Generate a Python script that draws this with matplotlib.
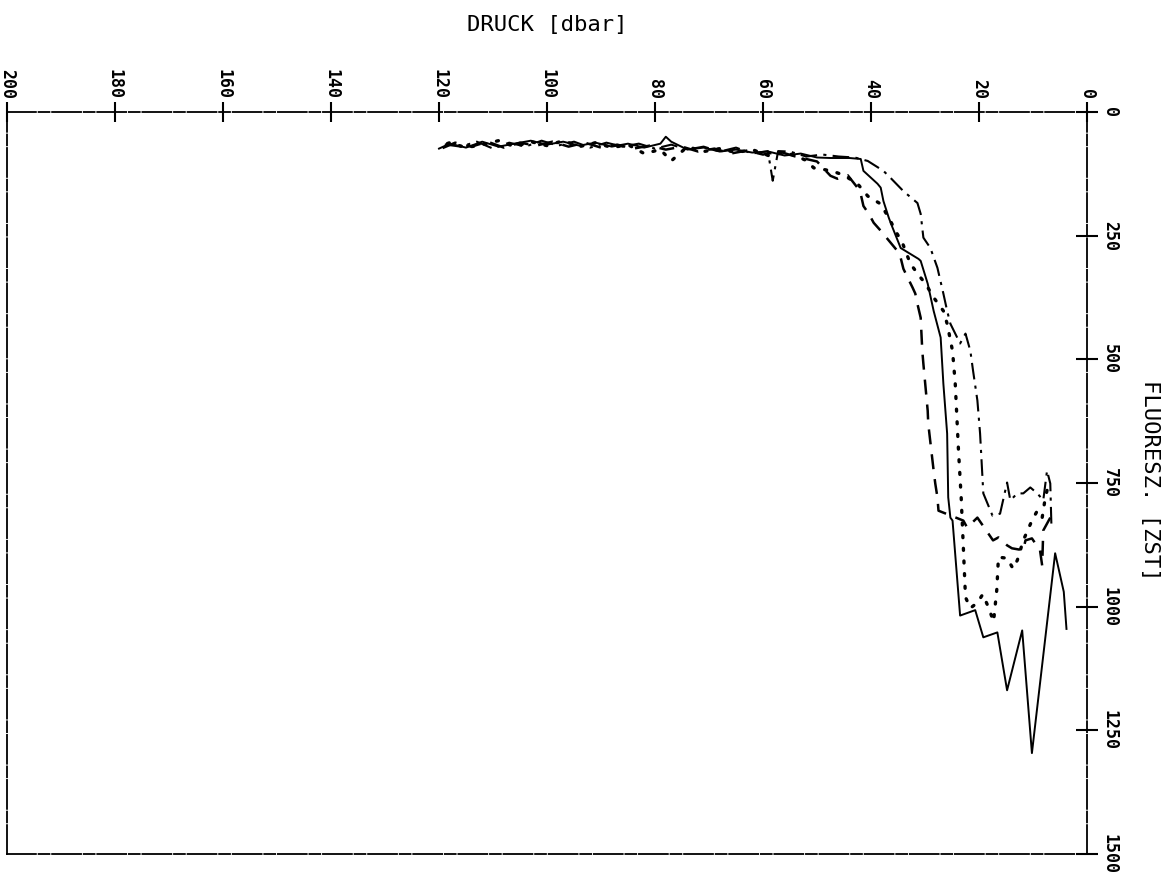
import matplotlib.pyplot as plt

# Profiles: pressure [dbar] vs. fluorescence [ZST], four casts
p_solid = [3.8, 4.3, 5.9, 10.2, 12.0, 14.8, 16.6, 19.2, 20.7, 23.5, 24.9, 25.3, 25.7,
           25.9, 26.6, 27.1, 28.4, 29.5, 30.8, 31.2, 34.5, 36.0, 36.7, 37.7, 38.2, 38.8,
           41.4, 41.9, 44.0, 47.5, 50, 53, 56, 59, 62, 65, 68, 71, 74, 77, 78, 79, 82,
           85, 88, 91, 94, 97, 100, 103, 106, 109, 112, 115, 118, 120]
f_solid = [1045, 970, 892, 1296, 1048, 1169, 1052, 1062, 1007, 1018, 826, 820, 779,
           650, 549, 456, 402, 347, 301, 297, 275, 234, 214, 180, 153, 145,
           119, 95, 93, 93, 92, 84, 88, 80, 82, 76, 80, 72, 76, 60, 50, 64, 72,
           64, 70, 62, 68, 60, 66, 58, 64, 70, 60, 72, 64, 74]

p_dash = [6.8, 8.1, 8.3, 8.7, 10.2, 11.4, 11.8, 13.9, 14.8, 16.4, 17.4, 20.3, 22.2,
          22.9, 27.5, 27.7, 28.1, 28.4, 29.4, 29.5, 30.3, 30.5, 30.8, 31.4, 31.8, 32.3,
          33.2, 34.0, 34.5, 35.1, 38.2, 39.5, 40.4, 41.4, 41.9, 42.5, 44.3, 46.2, 47.5,
          50, 54, 57, 60, 63, 66, 69, 72, 75, 78, 81, 84, 87, 90, 93, 96, 99, 102,
          105, 108, 111, 114, 117, 120]
f_dash = [820, 846, 917, 886, 862, 866, 886, 882, 876, 860, 866, 820, 840,
          826, 806, 779, 751, 725, 630, 604, 509, 483, 416, 388, 367, 355,
          335, 317, 295, 281, 240, 224, 206, 190, 166, 153, 128, 135, 129,
          100, 90, 80, 86, 78, 84, 74, 80, 70, 76, 68, 74, 66, 72, 62, 70, 60, 68,
          62, 72, 60, 70, 62, 76]

p_dot = [7.4, 7.8, 8.3, 9.2, 10.2, 11.8, 12.9, 13.7, 14.8, 16.4, 16.7, 17.3, 18.3,
         19.3, 20.3, 21.6, 22.5, 23.3, 23.8, 24.4, 24.9, 25.9, 26.6, 28.4, 29.9, 30.8,
         32.7, 34.2, 35.5, 36.4, 38.2, 40.6, 42.5, 45.0, 47.0, 49.3, 50.6, 52, 54,
         56, 59, 62, 65, 68, 71, 74, 77, 79, 82, 85, 88, 91, 94, 97, 100, 103, 106,
         109, 112, 115, 118, 120]
f_dot = [765, 785, 820, 806, 826, 866, 906, 923, 902, 900, 965, 1030, 1000,
         975, 992, 1003, 981, 779, 684, 549, 483, 428, 402, 375, 347, 335,
         307, 264, 240, 220, 186, 170, 145, 128, 120, 115, 113, 98, 88,
         82, 88, 76, 82, 74, 80, 70, 99, 76, 84, 66, 72, 62, 70, 58, 68, 60, 70,
         58, 66, 72, 62, 70]

p_dashdot = [6.6, 6.8, 7.4, 8.1, 9.2, 10.5, 11.8, 12.9, 14.2, 14.8, 16.1, 17.5, 19.2,
             19.8, 20.3, 21.1, 21.6, 22.5, 23.5, 25.3, 25.9, 26.6, 27.7, 29.0, 30.3,
             30.8, 31.4, 34.0, 36.4, 37.7, 40.6, 43, 46, 49, 52, 55, 57.2, 58.2, 59.1,
             62, 65, 68, 71, 74, 77, 80, 83, 86, 89, 92, 95, 98, 101, 104, 107, 110,
             113, 116, 120]
f_dashdot = [832, 751, 725, 785, 771, 759, 771, 771, 785, 749, 812, 816, 771,
             650, 583, 523, 483, 448, 468, 428, 402, 367, 315, 275, 254,
             206, 184, 160, 133, 119, 99, 92, 90, 86, 90, 80, 79, 139, 79,
             84, 72, 80, 70, 76, 66, 74, 64, 70, 62, 72, 60, 68, 58, 70, 62, 74,
             60, 70, 64]

x_ticks = list(range(0, 201, 20))
y_ticks = list(range(0, 1501, 250))

mono = 'DejaVu Sans Mono'

fig = plt.figure(figsize=(11.76, 8.75), dpi=100)
ax = fig.add_axes([7 / 1176, 21 / 875, 1080 / 1176, 742 / 875])

ax.plot(p_solid, f_solid, color='black', lw=1.4, ls='-')
ax.plot(p_dash, f_dash, color='black', lw=1.8, ls=(0, (6, 4)))
ax.plot(p_dot, f_dot, color='black', lw=2.4, ls=(0, (0.6, 3.2)), dash_capstyle='round')
ax.plot(p_dashdot, f_dashdot, color='black', lw=1.5, ls=(0, (8, 3, 1.5, 3)))

ax.set_xlim(200, 0)
ax.set_ylim(1500, 0)
ax.xaxis.tick_top()
ax.yaxis.tick_right()
ax.set_xticks(x_ticks)
ax.set_yticks(y_ticks)
ax.set_xticklabels([str(v) for v in x_ticks])
ax.set_yticklabels([str(v) for v in y_ticks])

ax.tick_params(axis='x', direction='inout', length=15, width=1.5, pad=2,
               labelrotation=-90, labelsize=12)
ax.tick_params(axis='y', direction='inout', length=16, width=1.5, pad=2,
               labelrotation=-90, labelsize=12)
for lab in ax.get_xticklabels():
    lab.set_fontfamily(mono)
    lab.set_fontweight('bold')
    lab.set_va('bottom')
    lab.set_ha('center')
for lab in ax.get_yticklabels():
    lab.set_fontfamily(mono)
    lab.set_fontweight('bold')
    lab.set_va('center')
    lab.set_ha('left')

# plotter-style frame with small gaps
for side in ['top', 'bottom', 'left', 'right']:
    ax.spines[side].set_linewidth(1.3)
    ax.spines[side].set_linestyle((0, (16, 1.5, 6, 1.5)))

fig.text(0.465, 0.972, 'DRUCK [dbar]', ha='center', va='center',
         fontsize=16, family=mono)
fig.text(0.978, 0.451, 'FLUORESZ. [ZST]', ha='center', va='center',
         rotation=-90, fontsize=16, family=mono)

fig.savefig('out.png', dpi=100)
